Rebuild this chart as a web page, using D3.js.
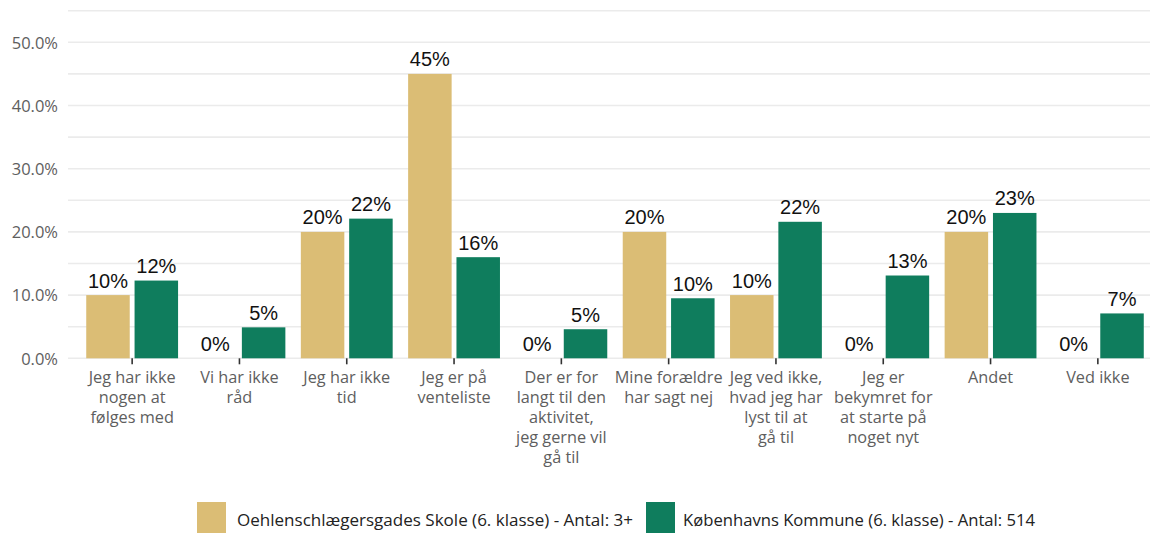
<!DOCTYPE html>
<html>
<head>
<meta charset="utf-8">
<script src="https://cdn.jsdelivr.net/npm/d3@7"></script>
<style>
  html, body { margin: 0; padding: 0; background: #ffffff; }
  svg { display: block; }
</style>
</head>
<body>
<div id="chart"></div>
<script>
// Reasons for not joining a leisure activity, share of answers (%)
const categories = [
  "Jeg har ikke\nnogen at\nfølges med",
  "Vi har ikke\nråd",
  "Jeg har ikke\ntid",
  "Jeg er på\nventeliste",
  "Der er for\nlangt til den\naktivitet,\njeg gerne vil\ngå til",
  "Mine forældre\nhar sagt nej",
  "Jeg ved ikke,\nhvad jeg har\nlyst til at\ngå til",
  "Jeg er\nbekymret for\nat starte på\nnoget nyt",
  "Andet",
  "Ved ikke"
];
const seriesNames = [
  "Oehlenschlægersgades Skole (6. klasse) - Antal: 3+",
  "Københavns Kommune (6. klasse) - Antal: 514"
];
const schoolValues = [10, 0, 20, 45, 0, 20, 10, 0, 20, 0];
const municipalityValues = [12.3, 4.9, 22.1, 16.0, 4.6, 9.5, 21.6, 13.1, 23.0, 7.1];
const yTicks = [0, 10, 20, 30, 40, 50];
const yGrid = [0, 5, 10, 15, 20, 25, 30, 35, 40, 45, 50, 55];
const colors = ["#dbbd75", "#0f7d5d"];

const W = 1150, H = 533;
const svg = d3.select("#chart").append("svg")
  .attr("width", W).attr("height", H);

const x = d3.scaleBand().domain(d3.range(categories.length))
  .range([78.5, 1151.5]).padding(0);
const xSub = d3.scaleBand().domain([0, 1])
  .range([0, x.bandwidth()]).paddingInner(0.1).paddingOuter(0.16);
const y = d3.scaleLinear().domain([0, 55]).range([358.3, 10.7]);

// gridlines
svg.append("g").selectAll("line").data(yGrid).join("line")
  .attr("x1", 68).attr("x2", W)
  .attr("y1", d => y(d)).attr("y2", d => y(d))
  .attr("stroke", "#ebebeb").attr("stroke-width", 1.6);

// y axis labels
const yAxis = d3.axisLeft(y).tickValues(yTicks)
  .tickFormat(d => d3.format(".1f")(d) + "%").tickSize(0).tickPadding(0);
const gy = svg.append("g").attr("transform", "translate(58,0)").call(yAxis);
gy.select(".domain").remove();
gy.selectAll("text")
  .attr("font-family", "'Open Sans', sans-serif").attr("font-size", 16.5)
  .attr("fill", "#5e5e5e").attr("dy", "0.35em");

// x axis ticks + wrapped labels
const xAxis = d3.axisBottom(x).tickSize(6).tickFormat("");
const gx = svg.append("g").attr("transform", `translate(0,${y(0)})`).call(xAxis);
gx.select(".domain").remove();
gx.selectAll(".tick line").attr("stroke", "#333").attr("stroke-width", 1.6);

const lbl = svg.append("g").selectAll("text").data(categories).join("text")
  .attr("text-anchor", "middle")
  .attr("font-family", "'Open Sans', sans-serif").attr("font-size", 16.3)
  .attr("fill", "#5e5e5e")
  .attr("transform", (d, i) => `translate(${x(i) + x.bandwidth() / 2},382.5)`);
lbl.selectAll("tspan").data(d => d.split("\n")).join("tspan")
  .attr("x", 0).attr("y", (d, j) => j * 20).text(d => d);

// bars
const series = [schoolValues, municipalityValues];
const rows = [];
series.forEach((vals, s) => vals.forEach((v, i) => rows.push({ s, i, v })));

svg.append("g").selectAll("rect").data(rows.filter(r => r.v > 0)).join("rect")
  .attr("x", r => x(r.i) + xSub(r.s))
  .attr("width", xSub.bandwidth())
  .attr("y", r => y(r.v))
  .attr("height", r => y(0) - y(r.v))
  .attr("fill", r => colors[r.s]);

// value labels
svg.append("g").selectAll("text").data(rows).join("text")
  .attr("x", r => x(r.i) + xSub(r.s) + xSub.bandwidth() / 2)
  .attr("y", r => y(r.v) - 7.5)
  .attr("text-anchor", "middle")
  .attr("font-family", "'Liberation Sans', Arial, sans-serif")
  .attr("font-size", 20).attr("fill", "#111")
  .text(r => Math.round(r.v) + "%");

// legend
const legendItems = [
  { x: 197, tx: 237, len: 396 },
  { x: 646, tx: 683, len: 352 }
];
const lg = svg.append("g").selectAll("g").data(seriesNames).join("g");
lg.append("rect")
  .attr("x", (d, i) => legendItems[i].x).attr("y", 502)
  .attr("width", 29).attr("height", 34)
  .attr("fill", (d, i) => colors[i]);
lg.append("text")
  .attr("x", (d, i) => legendItems[i].tx).attr("y", 526)
  .attr("font-family", "'Liberation Sans Narrow', 'Open Sans', sans-serif")
  .attr("font-size", 16).attr("fill", "#222")
  .attr("textLength", (d, i) => legendItems[i].len)
  .attr("lengthAdjust", "spacingAndGlyphs")
  .text(d => d);
</script>
</body>
</html>
